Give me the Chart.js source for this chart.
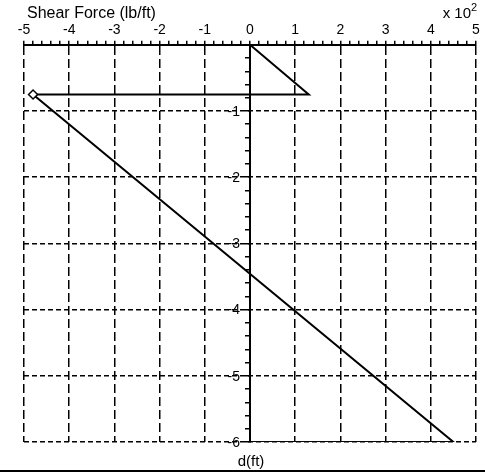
<!DOCTYPE html>
<html>
<head>
<meta charset="utf-8">
<script src="https://cdn.jsdelivr.net/npm/chart.js@4/dist/chart.umd.min.js"></script>
<style>
  html, body { margin: 0; padding: 0; background: #fff; }
  #wrap { width: 485px; height: 474px; position: relative; }
</style>
</head>
<body>
<div id="wrap"><canvas id="shearChart" width="485" height="474"></canvas></div>
<script>
// --- data (x in 10^2 lb/ft, y = depth in ft) ---
const shearForce = [0, 1.3, -4.8, 4.5, 0];
const depth = [0, -0.75, -0.75, -6, -6];
const markerIndex = 2;

const xRange = [-5, 5];
const yRange = [-6, 0];
const minorStep = 0.2;

const xTitle = 'Shear Force (lb/ft)';
const yTitle = 'd(ft)';
const scaleNote = 'x 10';
const scaleExp = '2';

const FONT = 'Arial, "Liberation Sans", sans-serif';

const isMajor = (v) => Math.abs(v - Math.round(v)) < 1e-6;

const points = shearForce.map((x, i) => ({ x: x, y: depth[i] }));

// text labels, y tick labels (axis sits at x = 0) and bottom rule
const labelsPlugin = {
    id: 'labels',
    afterDraw(chart) {
        const ctx = chart.ctx;
        const xs = chart.scales.x;
        const ys = chart.scales.y;
        const axisX = xs.getPixelForValue(0);
        ctx.save();
        ctx.fillStyle = '#000';
        ctx.font = '14px ' + FONT;
        ctx.textBaseline = 'middle';

        // y tick labels, left of the centre axis
        ctx.textAlign = 'right';
        ys.ticks.forEach((t) => {
            if (!isMajor(t.value) || Math.round(t.value) === 0) return;
            ctx.fillText(String(Math.round(t.value)), axisX - 10, ys.getPixelForValue(t.value) + 1);
        });

        ctx.font = '16px ' + FONT;
        ctx.textAlign = 'left';
        ctx.fillText(xTitle, 27, 14);

        ctx.font = '15px ' + FONT;
        ctx.textAlign = 'right';
        ctx.fillText(scaleNote, 471, 14);
        ctx.font = '11px ' + FONT;
        ctx.textAlign = 'left';
        ctx.fillText(scaleExp, 471, 8);

        ctx.font = '15px ' + FONT;
        ctx.textAlign = 'center';
        ctx.fillText(yTitle, axisX + 1, 462);

        ctx.fillRect(0, 470, 485, 2);
        ctx.restore();
    }
};

const ctx = document.getElementById('shearChart').getContext('2d');
const shearChart = new Chart(ctx, {
    type: 'scatter',
    data: {
        datasets: [{
            data: points,
            showLine: true,
            borderColor: '#000',
            borderWidth: 2,
            pointRadius: points.map((p, i) => i === markerIndex ? 4.5 : 0),
            pointStyle: 'rectRot',
            pointBackgroundColor: '#fff',
            pointBorderColor: '#000',
            pointBorderWidth: 1.5,
            tension: 0
        }]
    },
    options: {
        responsive: false,
        animation: false,
        layout: {
            padding: { left: 24, right: 9, top: 20, bottom: 32 }
        },
        plugins: {
            legend: { display: false },
            tooltip: { enabled: false }
        },
        scales: {
            x: {
                type: 'linear',
                position: 'top',
                min: xRange[0],
                max: xRange[1],
                ticks: {
                    stepSize: minorStep,
                    autoSkip: false,
                    maxRotation: 0,
                    padding: 2,
                    color: '#000',
                    font: { family: FONT, size: 14 },
                    callback: (v) => isMajor(v) ? String(Math.round(v)) : ''
                },
                grid: {
                    color: (c) => (c.tick && isMajor(c.tick.value)) ? '#000' : 'rgba(0,0,0,0)',
                    lineWidth: 1.5,
                    tickColor: '#000',
                    tickLength: 4,
                    tickWidth: 1.5
                },
                border: { display: true, color: '#000', width: 2, dash: [9, 4] }
            },
            y: {
                type: 'linear',
                position: { x: 0 },
                min: yRange[0],
                max: yRange[1],
                ticks: {
                    stepSize: minorStep,
                    autoSkip: false,
                    padding: 6,
                    font: { family: FONT, size: 14 },
                    callback: () => ''
                },
                grid: {
                    color: (c) => (c.tick && isMajor(c.tick.value)) ? '#000' : 'rgba(0,0,0,0)',
                    lineWidth: 1.5,
                    tickColor: '#000',
                    tickLength: 4,
                    tickWidth: 1.5
                },
                border: { display: true, color: '#000', width: 2, dash: [5, 3] }
            }
        }
    },
    plugins: [labelsPlugin]
});
</script>
</body>
</html>
